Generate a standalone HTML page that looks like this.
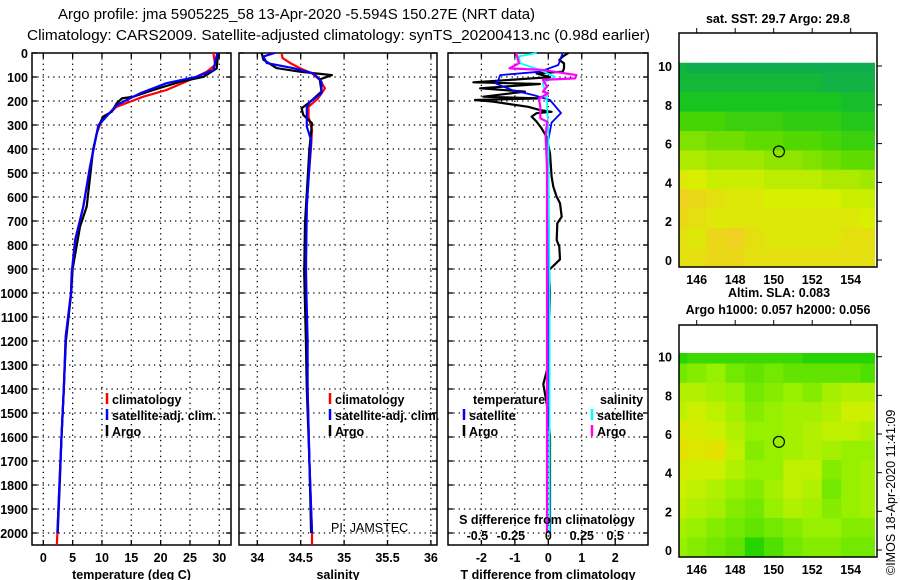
<!DOCTYPE html>
<html><head><meta charset="utf-8"><style>
html,body{margin:0;padding:0;background:#fff;}
svg{display:block;font-family:"Liberation Sans",Arial,sans-serif;}
.t{font-size:12.5px;font-weight:bold;fill:#000;}
.lg{font-size:12.5px;fill:#000;font-weight:bold;}
</style></head><body>
<svg id="chart" width="900" height="580" viewBox="0 0 900 580" xmlns="http://www.w3.org/2000/svg">
<text x="58" y="19" font-size="14.5" textLength="477" lengthAdjust="spacingAndGlyphs">Argo profile: jma 5905225_58 13-Apr-2020 -5.594S 150.27E (NRT data)</text>
<text x="27" y="40" font-size="14.5" textLength="623" lengthAdjust="spacingAndGlyphs">Climatology: CARS2009. Satellite-adjusted climatology: synTS_20200413.nc (0.98d earlier)</text>
<g id="g"></g>
</svg>
<script>
// ---- data ----
const depthLabels = ["0","100","200","300","400","500","600","700","800","900","1000","1100","1200","1300","1400","1500","1600","1700","1800","1900","2000"];
const tempTicks = [0,5,10,15,20,25,30];
const salTicks = [34,34.5,35,35.5,36];
const tdTicks = [-2,-1,0,1,2];
const sdTickLabels = ["-0.5","-0.25","0","0.25","0.5"];
const sdTicks = [-0.5,-0.25,0,0.25,0.5];

const tempClimDepth = [0,50,78,112,154,182,224,279,335,474,640,779,918,1000,1182,1400,1600,1800,2000,2050];
const tempClim = [28.98,29.3,27.85,25,21,17.05,12.5,9.95,9.1,7.96,6.82,5.4,4.84,4.72,3.82,3.5,3.1,2.75,2.4,2.3];
const tempArgoDepth = [0,64,99,120,154,182,189,210,245,265,307,400,640,724,900,1000,1200,1400,1600,1800,2000];
const tempArgo = [29.8,29.55,27.3,23.3,18.75,15.34,13.4,12.5,11.66,10.2,9.4,8.5,7.4,6.25,5.0,4.75,3.85,3.5,3.1,2.8,2.45];
const tempSatDepth = [0,71,99,126,168,217,272,300,474,640,779,918,1000,1182,1400,1600,1800,2000];
const tempSat = [29.65,29,26.1,21,16.5,12.5,10.5,9.4,7.96,6.82,5.45,4.84,4.72,3.82,3.5,3.1,2.75,2.4];

const salClimDepth = [0,21,42,63,85,112,147,189,224,265,321,390,612,847,1194,1400,1700,2000,2050];
const salClim = [34.28,34.29,34.38,34.49,34.63,34.72,34.78,34.70,34.59,34.59,34.63,34.62,34.57,34.56,34.57,34.58,34.6,34.63,34.63];
const salArgoDepth = [0,28,63,78,92,110,161,203,231,258,293,400,709,917,1200,1400,1700,2000];
const salArgo = [34.05,34.07,34.22,34.49,34.86,34.72,34.74,34.61,34.51,34.53,34.63,34.6,34.55,34.54,34.56,34.57,34.6,34.62];
const salSatDepth = [0,14,42,63,85,119,168,203,224,307,363,640,917,1194,1400,1700,2000];
const salSat = [34.2,34.07,34.11,34.41,34.65,34.74,34.74,34.61,34.57,34.57,34.62,34.57,34.56,34.58,34.58,34.6,34.63];

const tdArgoDepth = [0,15,29,43,64,78,85,101,122,129,147,161,182,189,196,203,224,238,245,251,265,286,314,349,418,515,557,599,626,682,710,779,807,860,904,1000,1300,1380,1420,1500,1600,2000];
const tdArgo = [0.6,0.43,0.33,0.47,0.47,0.43,-0.35,0.05,-2.24,-0.25,-2.04,-0.7,-1.94,-0.25,-2.19,-1.64,-0.6,-0.25,0.1,-0.35,-0.5,-0.35,-0.2,-0.05,0.05,0.1,0.15,0.25,0.35,0.4,0.27,0.25,0.33,0.35,0.02,0.05,0.0,-0.15,-0.1,0.0,0.05,0.05];
const tdSatDepth = [0,50,78,92,112,126,154,175,196,250,290,400,1000,2000];
const tdSat = [0.43,0.3,-0.25,-1.44,-1.49,-1.59,-1.09,-0.45,0.05,0.38,0.1,-0.05,0,0.05];
const sdSatDepth = [0,14,43,71,99,126,200,340,1000,2000];
const sdSat = [-0.087,-0.22,-0.21,-0.06,0.05,-0.04,-0.01,0,0.01,0.01];
const sdArgoDepth = [0,43,64,70,92,106,112,140,161,168,189,224,272,286,349,474,1000,2000];
const sdArgo = [-0.24,-0.22,-0.29,-0.05,0.21,0.2,-0.04,-0.01,-0.04,0,-0.07,-0.06,-0.06,-0.01,-0.02,-0.01,-0.01,-0.01];

const mapLons = [145,146,147,148,149,150,151,152,153,154,155];
const mapLats = [10,9,8,7,6,5,4,3,2,1,0];
const sstGrid = [
[29.05,29.0,29.0,29.0,29.0,29.0,29.0,29.0,29.0,29.0,29.0],
[29.1,29.1,29.1,29.1,29.1,29.1,29.1,29.1,29.05,29.05,29.05],
[29.2,29.2,29.2,29.2,29.2,29.2,29.2,29.2,29.2,29.15,29.15],
[29.4,29.4,29.4,29.35,29.35,29.35,29.3,29.3,29.3,29.25,29.25],
[29.6,29.6,29.55,29.55,29.5,29.5,29.45,29.45,29.4,29.35,29.35],
[29.75,29.75,29.7,29.7,29.7,29.65,29.65,29.6,29.55,29.5,29.5],
[29.95,29.9,29.85,29.85,29.85,29.8,29.8,29.8,29.75,29.75,29.7],
[30.1,30.05,30.0,29.95,29.95,29.9,29.9,29.9,29.9,29.85,29.85],
[30.05,30.0,29.95,29.95,29.95,29.95,29.95,29.95,29.95,29.95,29.9],
[30.0,29.95,30.05,30.1,30.0,29.95,29.95,29.95,29.95,30.0,30.0],
[30.0,30.0,30.05,30.05,30.0,30.0,30.0,30.0,30.0,30.0,30.0]];
const slaGrid = [
[0.02,0.03,0.03,0.03,0.03,0.03,0.03,0.02,0.02,0.02,0.02],
[0.06,0.07,0.08,0.06,0.05,0.06,0.05,0.05,0.05,0.05,0.04],
[0.10,0.10,0.09,0.08,0.06,0.07,0.08,0.07,0.09,0.10,0.10],
[0.11,0.12,0.11,0.09,0.07,0.08,0.09,0.09,0.10,0.12,0.12],
[0.14,0.13,0.12,0.10,0.08,0.08,0.09,0.10,0.11,0.11,0.10],
[0.15,0.14,0.15,0.11,0.07,0.08,0.09,0.10,0.09,0.08,0.08],
[0.13,0.12,0.12,0.10,0.08,0.08,0.11,0.11,0.07,0.08,0.09],
[0.12,0.11,0.10,0.08,0.07,0.09,0.11,0.10,0.06,0.08,0.09],
[0.11,0.10,0.09,0.07,0.06,0.08,0.10,0.09,0.07,0.08,0.09],
[0.09,0.08,0.07,0.06,0.05,0.06,0.07,0.08,0.08,0.07,0.07],
[0.08,0.07,0.06,0.05,0.02,0.04,0.06,0.07,0.07,0.06,0.06]];
const mapTickLons = [146,148,150,152,154];
const mapTickLats = [0,2,4,6,8,10];
const argoLon = 150.27, argoLat = 5.594;

// ---- drawing ----
const NS="http://www.w3.org/2000/svg";
const G=document.getElementById('g');
function el(tag,attrs,parent){const e=document.createElementNS(NS,tag);for(const k in attrs)e.setAttribute(k,attrs[k]);(parent||G).appendChild(e);return e;}
const yD = d => 53 + d*0.24;
const panels = [
 {x0:32,x1:231,sx:v=>43.3+v*5.867,ticks:tempTicks,labels:tempTicks.map(String),title:"temperature (deg C)",name:"temperature"},
 {x0:239,x1:437,sx:v=>257.3+(v-34)*86.8,ticks:salTicks,labels:salTicks.map(String),title:"salinity",name:"salinity"},
 {x0:448,x1:648,sx:v=>548.3+v*33.45,ticks:tdTicks,labels:tdTicks.map(String),title:"T difference from climatology",name:"difference"}
];
const Y0=53,Y1=545;
panels.forEach(p=>{
  const grp=el('g',{});
  
  
  depthLabels.forEach((l,i)=>{const d=i*100;const y=yD(d);
    if(i>0){const ln=el('line',{x1:p.x0,x2:p.x1,y1:y,y2:y,stroke:'#000','stroke-width':1.3,'stroke-dasharray':'1.3,4'},grp);
      }
    el('line',{x1:p.x0,x2:p.x0+5,y1:y,y2:y,stroke:'#000','stroke-width':1.3},grp);
    el('line',{x1:p.x1-5,x2:p.x1,y1:y,y2:y,stroke:'#000','stroke-width':1.3},grp);
  });
  p.ticks.forEach((v,i)=>{const x=p.sx(v);
    const ln=el('line',{x1:x,x2:x,y1:Y0,y2:Y1,stroke:'#000','stroke-width':1.3,'stroke-dasharray':'1.3,4'},grp);
    
    el('line',{x1:x,x2:x,y1:Y0,y2:Y0+5,stroke:'#000','stroke-width':1.3},grp);
    el('line',{x1:x,x2:x,y1:Y1-5,y2:Y1,stroke:'#000','stroke-width':1.3},grp);
    const t=el('text',{x:x,y:562,'text-anchor':'middle',class:'t'},grp);t.textContent=p.labels[i];
    
  });
  const fr=el('rect',{x:p.x0,y:Y0,width:p.x1-p.x0,height:Y1-Y0,fill:'none',stroke:'#000','stroke-width':1.5},grp);
  
  const tt=el('text',{x:(p.x0+p.x1)/2,y:579,'text-anchor':'middle',class:'t'},grp);tt.textContent=p.title;
  
});
depthLabels.forEach((l,i)=>{const t=el('text',{x:28,y:yD(i*100)+5,'text-anchor':'end',class:'t','font-size':13});t.textContent=l;
  });

function line(p,depths,vals,color,name,w){
  const pts=depths.map((d,i)=>p.sx(vals[i]).toFixed(1)+','+yD(d).toFixed(1)).join(' ');
  const pl=el('polyline',{points:pts,fill:'none',stroke:color,'stroke-width':w||2.2,'stroke-linejoin':'round'});
  
}
line(panels[0],tempClimDepth,tempClim,'#f00','temperature-climatology-line');
line(panels[0],tempArgoDepth,tempArgo,'#000','temperature-argo-line');
line(panels[0],tempSatDepth,tempSat,'#00f','temperature-satellite-line');
line(panels[1],salClimDepth,salClim,'#f00','salinity-climatology-line');
line(panels[1],salArgoDepth,salArgo,'#000','salinity-argo-line');
line(panels[1],salSatDepth,salSat,'#00f','salinity-satellite-line');
const sdx = {sx:v=>548.3+v*133.8};
line(panels[2],tdArgoDepth,tdArgo,'#000','t-diff-argo-line');
line(panels[2],tdSatDepth,tdSat,'#00f','t-diff-satellite-line',1.8);
line(sdx,sdSatDepth,sdSat,'#0ff','s-diff-satellite-line',1.8);
line(sdx,sdArgoDepth,sdArgo,'#f0f','s-diff-argo-line');

function legend(x,y,color,label,name){
  el('line',{x1:x,x2:x,y1:y-11,y2:y,stroke:color,'stroke-width':2.5});
  const t=el('text',{x:x+5,y:y,class:'lg'});t.textContent=label;
  
}
legend(107,404,'#f00','climatology','legend-climatology');
legend(107,420,'#00f','satellite-adj. clim.','legend-satellite');
legend(107,436,'#000','Argo','legend-argo');
legend(330,404,'#f00','climatology','legend-climatology-2');
legend(330,420,'#00f','satellite-adj. clim.','legend-satellite-2');
legend(330,436,'#000','Argo','legend-argo-2');
{const t=el('text',{x:473,y:404,class:'lg'});t.textContent='temperature';}
{const t=el('text',{x:600,y:404,class:'lg'});t.textContent='salinity';}
legend(464,420,'#00f','satellite','legend-t-satellite');
legend(464,436,'#000','Argo','legend-t-argo');
legend(592,420,'#0ff','satellite','legend-s-satellite');
legend(592,436,'#f0f','Argo','legend-s-argo');
{const t=el('text',{x:547,y:524,'text-anchor':'middle',class:'lg'});t.textContent='S difference from climatology';}
sdTicks.forEach((v,i)=>{const t=el('text',{x:sdx.sx(v)-(v<0?4:0),y:540,'text-anchor':'middle',class:'lg'});t.textContent=sdTickLabels[i];
  });
{const t=el('text',{x:331,y:532,'font-size':12.5});t.textContent='PI: JAMSTEC';}

// ---- maps ----
const rgb=a=>'rgb('+a.join(',')+')';
function lerpColor(stops,v){
  if(v<=stops[0][0])return rgb(stops[0][1]);
  for(let i=1;i<stops.length;i++){if(v<=stops[i][0]){const a=stops[i-1],b=stops[i],f=(v-a[0])/(b[0]-a[0]);
    return rgb([0,1,2].map(k=>Math.round(a[1][k]+(b[1][k]-a[1][k])*f)));}}
  return rgb(stops[stops.length-1][1]);
}
const sstStops=[[29.0,[16,172,80]],[29.2,[24,196,32]],[29.45,[80,216,0]],[29.7,[160,232,0]],[29.9,[216,240,0]],[30.1,[240,208,32]]];
const slaStops=[[0.0,[0,200,0]],[0.04,[80,224,0]],[0.08,[150,240,0]],[0.12,[204,240,0]],[0.16,[236,220,0]]];
function drawMap(m){
  const grp=el('g',{});
  
  const sx=lon=>696.7+(lon-146)*19.25, sy=lat=>m.y0lat-lat*m.py;
  const cp=el('clipPath',{id:'cp'+m.id},grp);
  el('rect',{x:679,y:m.top,width:196,height:m.bot-m.top},cp);
  const cells=el('g',{'clip-path':'url(#cp'+m.id+')'},grp);
  m.grid.forEach((row,r)=>row.forEach((v,c)=>{
    const x=sx(mapLons[c]-0.5), y=sy(mapLats[r]+0.65);
    const rc=el('rect',{x:x.toFixed(1),y:y.toFixed(1),width:(19.25+0.6).toFixed(1),height:(m.py+0.6).toFixed(1),fill:lerpColor(m.stops,v)},cells);
    
  }));
  const fr=el('rect',{x:679,y:m.frameTop,width:198,height:m.bot-m.frameTop,fill:'none',stroke:'#000','stroke-width':1.5},grp);
  
  mapTickLats.forEach(l=>{const y=sy(l);el('line',{x1:877,x2:882,y1:y,y2:y,stroke:'#000'},grp);
    const t=el('text',{x:672,y:y+5,'text-anchor':'end',class:'t','font-size':13});t.textContent=String(l);
    });
  mapTickLons.forEach(l=>{const x=sx(l);el('line',{x1:x,x2:x,y1:m.frameTop,y2:m.frameTop-5,stroke:'#000'},grp);
    const t=el('text',{x:x,y:m.bot+17,'text-anchor':'middle',class:'t','font-size':13});t.textContent=String(l);
    });
  const c=el('circle',{cx:sx(argoLon),cy:sy(argoLat),r:5.5,fill:'none',stroke:'#000','stroke-width':1.2},grp);
  
}
drawMap({id:1,name:'sst-map',grid:sstGrid,stops:sstStops,top:62.7,bot:267,frameTop:33,y0lat:260,py:19.4});
drawMap({id:2,name:'sla-map',grid:slaGrid,stops:slaStops,top:353,bot:557,frameTop:325,y0lat:550,py:19.33});
{const t=el('text',{x:778,y:23,'text-anchor':'middle',class:'t'});t.textContent='sat. SST: 29.7 Argo: 29.8';}
{const t=el('text',{x:779,y:297,'text-anchor':'middle',class:'t'});t.textContent='Altim. SLA: 0.083';}
{const t=el('text',{x:778,y:314,'text-anchor':'middle',class:'t'});t.textContent='Argo h1000: 0.057 h2000: 0.056';}
{const t=el('text',{x:0,y:0,'font-size':12.5,transform:'translate(895,575) rotate(-90)'});t.textContent='©IMOS 18-Apr-2020 11:41:09';}
</script>
</body></html>
